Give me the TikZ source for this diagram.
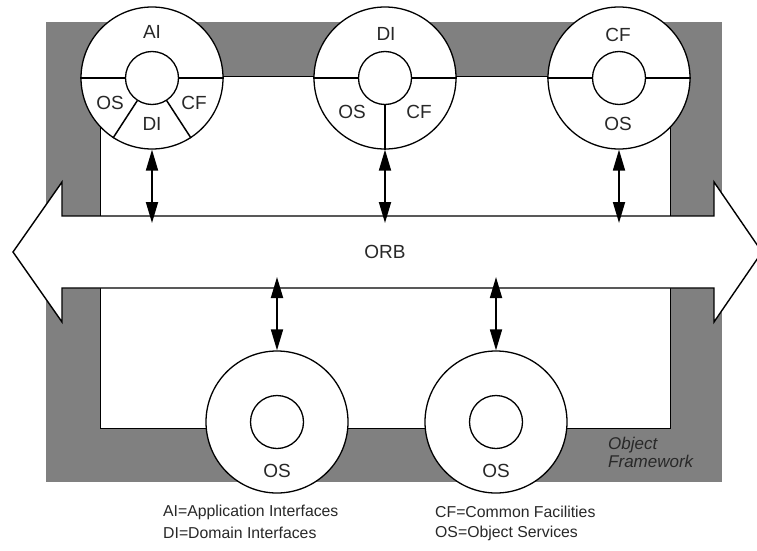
\documentclass[tikz,border=0pt]{standalone}
\usepackage{fontspec}
\setmainfont{Liberation Sans}
\usetikzlibrary{arrows.meta}
\definecolor{framegray}{RGB}{128,128,128}
\definecolor{inktext}{RGB}{40,40,40}
\begin{document}
\begin{tikzpicture}[x=1pt,y=-1pt,
  ring/.style={circle, draw, fill=white, line width=1.3pt, minimum size=142pt, inner sep=0pt},
  hub/.style={circle, draw, fill=white, line width=1.3pt, minimum size=53pt, inner sep=0pt},
  divider/.style={line width=1.5pt},
  lbl/.style={font=\fontsize{19}{19}\selectfont, text=inktext, inner sep=0pt},
  legend/.style={font=\fontsize{15.8}{16}\selectfont, text=inktext, anchor=west, inner sep=0pt},
  link/.style={line width=1.8pt, {Triangle[length=21pt,width=12pt]}-{Triangle[length=21pt,width=12pt]}},
  bus/.style={draw, fill=white, line width=1.4pt, line join=miter}
]
\useasboundingbox (0,0) rectangle (757,551);
\fill[white] (0,0) rectangle (757,551);

% object framework: grey frame with white interior
\fill[framegray] (46,22) rectangle (722,482);
\draw[fill=white, line width=0.8pt] (100,76) rectangle (670,428);

% ORB as a double-headed block arrow
\draw[bus] (62,216) -- (714,216) -- (714,182) -- (762,252) -- (714,322) -- (714,288)
  -- (62,288) -- (62,322) -- (13,252) -- (62,182) -- cycle;
\node[lbl] (orb) at (385,252) {ORB};

% top components
\node[ring] (ai) at (152,78) {};
\node[hub] (aihub) at (152,78) {};
\draw[divider] (ai.west) -- (aihub.west) (aihub.east) -- (ai.east);
\draw[divider] (aihub.-123) -- (ai.-123) (aihub.-57) -- (ai.-57);
\node[lbl] (ai-ai) at (152,32) {AI};
\node[lbl] (ai-os) at (110,103) {OS};
\node[lbl] (ai-cf) at (194,103) {CF};
\node[lbl] (ai-di) at (152,124) {DI};

\node[ring] (di) at (385,78) {};
\node[hub] (dihub) at (385,78) {};
\draw[divider] (di.west) -- (dihub.west) (dihub.east) -- (di.east);
\draw[divider] (dihub.south) -- (di.south);
\node[lbl] (di-di) at (386,34) {DI};
\node[lbl] (di-os) at (352,112) {OS};
\node[lbl] (di-cf) at (419,112) {CF};

\node[ring] (cf) at (619,78) {};
\node[hub] (cfhub) at (619,78) {};
\draw[divider] (cf.west) -- (cfhub.west) (cfhub.east) -- (cf.east);
\node[lbl] (cf-cf) at (618,35) {CF};
\node[lbl] (cf-os) at (618,124) {OS};

% bottom object services
\node[ring] (os1) at (277,422) {};
\node[hub] (os1hub) at (277,422) {};
\node[lbl] (os1-os) at (277,471) {OS};

\node[ring] (os2) at (496,422) {};
\node[hub] (os2hub) at (496,422) {};
\node[lbl] (os2-os) at (496,471) {OS};

% attachment points on the bus
\coordinate (b-ai) at (152,223);
\coordinate (b-di) at (385,223);
\coordinate (b-cf) at (619,223);
\coordinate (b-os1) at (277,277);
\coordinate (b-os2) at (496,277);

\draw[link] (ai.south) -- (b-ai);
\draw[link] (di.south) -- (b-di);
\draw[link] (cf.south) -- (b-cf);
\draw[link] (b-os1) -- (os1.north);
\draw[link] (b-os2) -- (os2.north);

% caption inside the frame
\node[font=\itshape\fontsize{17}{18}\selectfont, text=inktext, align=left, anchor=west, inner sep=0pt]
  (fw) at (608,452) {Object\\Framework};

% legend
\node[legend] (lg-ai) at (163,512) {AI=Application Interfaces};
\node[legend] (lg-di) at (163,533) {DI=Domain Interfaces};
\node[legend] (lg-cf) at (435,512) {CF=Common Facilities};
\node[legend] (lg-os) at (435,533) {OS=Object Services};
\end{tikzpicture}
\end{document}
